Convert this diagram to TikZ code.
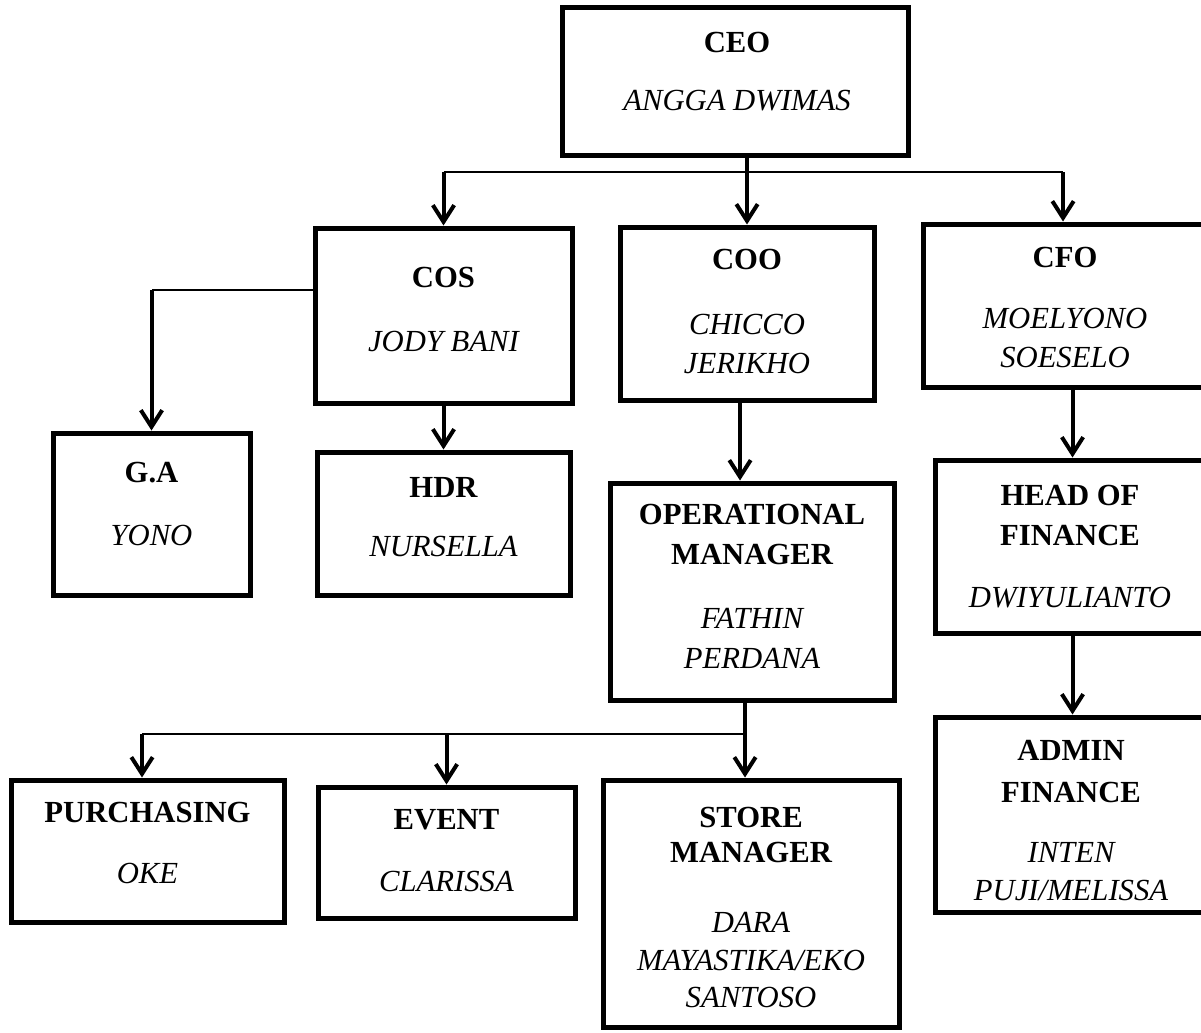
\documentclass[tikz,border=0pt]{standalone}
\usepackage{fontspec}
\setmainfont{Liberation Serif}
\usetikzlibrary{arrows.meta,calc}
\begin{document}
\begin{tikzpicture}[x=0.75pt,y=-0.75pt,
  box/.style={draw, line width=3.75pt, inner sep=0pt},
  ttl/.style={font=\fontsize{23}{28}\selectfont\bfseries, anchor=base, inner sep=0pt},
  nm/.style={font=\fontsize{23}{28}\selectfont\itshape, anchor=base, inner sep=0pt},
  arr/.style={line width=3pt, -{Straight Barb[length=12.5pt,width=16pt]}},
  busline/.style={line width=1.5pt}]
\useasboundingbox (0,0) rectangle (1201,1032);
\clip (0,0) rectangle (1201,1032);

% boxes
\node[box, minimum width=259.5pt, minimum height=111pt] (ceo) at (735,81) {};
\node[box, minimum width=192.75pt, minimum height=131.25pt] (cos) at (443.5,315.5) {};
\node[box, minimum width=190.5pt, minimum height=129.75pt] (coo) at (747,313.5) {};
\node[box, minimum width=215.25pt, minimum height=122.25pt] (cfo) at (1066.5,305.5) {};
\node[box, minimum width=147.75pt, minimum height=121.5pt] (ga) at (151.5,514) {};
\node[box, minimum width=189.75pt, minimum height=107.25pt] (hdr) at (443.5,523.5) {};
\node[box, minimum width=213pt, minimum height=162.75pt] (om) at (752,591.5) {};
\node[box, minimum width=206.25pt, minimum height=129.75pt] (hof) at (1072.5,546.5) {};
\node[box, minimum width=206.25pt, minimum height=146.25pt] (adm) at (1072.5,814.5) {};
\node[box, minimum width=204.75pt, minimum height=106.5pt] (pur) at (147.5,851) {};
\node[box, minimum width=192.75pt, minimum height=98.25pt] (evt) at (446.5,852.5) {};
\node[box, minimum width=222pt, minimum height=185.25pt] (sm) at (751,903.5) {};

% texts
\node[ttl] (ceo-t) at (737,52) {CEO};
\node[nm]  (ceo-n) at (737,110) {ANGGA DWIMAS};
\node[ttl] (cos-t) at (443.5,287) {COS};
\node[nm]  (cos-n) at (443.5,351) {JODY BANI};
\node[ttl] (coo-t) at (747,269) {COO};
\node[nm]  (coo-n1) at (747,334) {CHICCO};
\node[nm]  (coo-n2) at (747,373) {JERIKHO};
\node[ttl] (cfo-t) at (1065,267) {CFO};
\node[nm]  (cfo-n1) at (1065,328) {MOELYONO};
\node[nm]  (cfo-n2) at (1065,367) {SOESELO};
\node[ttl] (ga-t) at (151.5,482) {G.A};
\node[nm]  (ga-n) at (151.5,545) {YONO};
\node[ttl] (hdr-t) at (443.5,497) {HDR};
\node[nm]  (hdr-n) at (443.5,556) {NURSELLA};
\node[ttl] (om-t1) at (752,524) {OPERATIONAL};
\node[ttl] (om-t2) at (752,564) {MANAGER};
\node[nm]  (om-n1) at (752,628) {FATHIN};
\node[nm]  (om-n2) at (752,668) {PERDANA};
\node[ttl] (hof-t1) at (1070,505) {HEAD OF};
\node[ttl] (hof-t2) at (1070,545) {FINANCE};
\node[nm]  (hof-n) at (1070,607) {DWIYULIANTO};
\node[ttl] (adm-t1) at (1071,760) {ADMIN};
\node[ttl] (adm-t2) at (1071,802) {FINANCE};
\node[nm]  (adm-n1) at (1071,862) {INTEN};
\node[nm]  (adm-n2) at (1071,900) {PUJI/MELISSA};
\node[ttl] (pur-t) at (147.5,822) {PURCHASING};
\node[nm]  (pur-n) at (147.5,883) {OKE};
\node[ttl] (evt-t) at (446.5,829) {EVENT};
\node[nm]  (evt-n) at (446.5,891) {CLARISSA};
\node[ttl] (sm-t1) at (751,827) {STORE};
\node[ttl] (sm-t2) at (751,862) {MANAGER};
\node[nm]  (sm-n1) at (751,932) {DARA};
\node[nm]  (sm-n2) at (751,970) {MAYASTIKA/EKO};
\node[nm]  (sm-n3) at (751,1007) {SANTOSO};

% connectors
\coordinate (jL) at (443.5,172);
\coordinate (jR) at (1063,172);
\coordinate (sL) at (151.5,290);
\coordinate (kL) at (142,734);
\coordinate (kR) at (745,734);

\draw[busline] (jL) -- (jR);
\draw[arr] (jL) -- (cos.north);
\draw[arr] (ceo.south -| coo.north) -- (coo.north);
\draw[arr] (jR) -- (jR |- cfo.north);
\draw[busline] (cos.west |- sL) -- (sL);
\draw[arr] (sL) -- (ga.north);
\draw[arr] (cos.south) -- (hdr.north);
\draw[arr] ([xshift=-9pt]om.north |- coo.south) -- ([xshift=-9pt]om.north);
\draw[arr] (cfo.south -| hof.north) -- (hof.north);
\draw[arr] (hof.south) -- (adm.north);
\draw[busline] (kL) -- (kR);
\draw[arr] (om.south -| kR) -- (kR |- sm.north);
\draw[arr] (kL) -- (kL |- pur.north);
\draw[arr] (kR -| evt.north) -- (evt.north);
\end{tikzpicture}
\end{document}
